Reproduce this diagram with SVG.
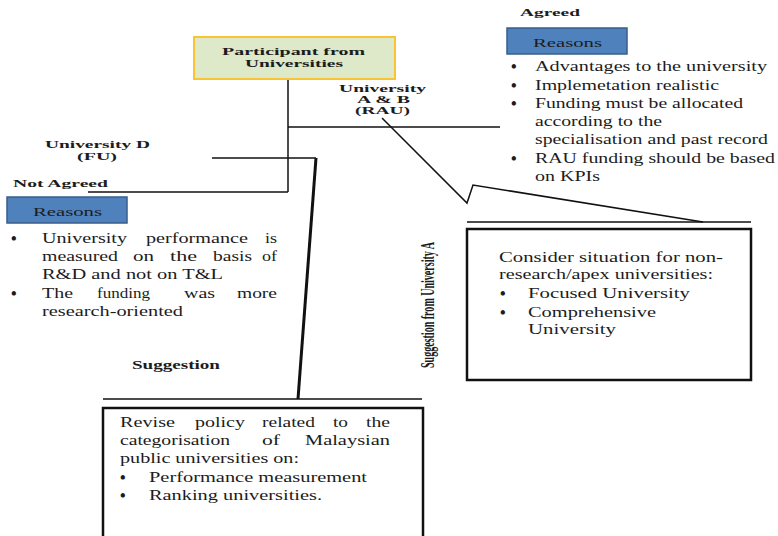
<svg xmlns="http://www.w3.org/2000/svg" width="778" height="536" viewBox="0 0 778 536">
<style>
  text { font-family: 'Liberation Serif', 'Times New Roman', 'DejaVu Serif', serif; fill: #1c1c1c; }
  .b { font-weight: bold; font-size: 11px; }
  .b12 { font-weight: bold; font-size: 12px; }
  .b10 { font-weight: bold; font-size: 10px; }
  .side { font-weight: bold; font-size: 18px; }
  .t { font-size: 15px; }
  .r { font-size: 13px; }
  .bul { font-size: 16px; font-weight: bold; }
  .line { stroke: #111; fill: none; stroke-width: 1.5; }
  .thick { stroke: #111; fill: none; stroke-width: 3; }
  .box { fill: #fff; stroke: #111; stroke-width: 2.5; }
  .reason { fill: #4f81bd; stroke: #385d8a; stroke-width: 1.5; }
</style>
<rect width="778" height="536" fill="#fff"/>

<g id="connectors">
  <line class="line" x1="288" y1="79" x2="288" y2="192"/>
  <line class="line" x1="88" y1="192" x2="288" y2="192"/>
  <line class="line" x1="288" y1="127" x2="500" y2="127"/>
  <polyline class="line" points="212,158 316,158"/>
  <line class="thick" x1="316" y1="158" x2="298" y2="399"/>
  <line class="line" stroke-width="2" x1="103" y1="399" x2="422" y2="399"/>
  <polyline class="line" stroke-width="2" points="382,118 467,203 473,185 703,222"/>
  <line class="line" stroke-width="2" x1="467" y1="222" x2="751" y2="222"/>
</g>

<g id="participant">
  <rect x="194" y="37" width="201" height="42" fill="#dde9c8" stroke="#f8c434" stroke-width="2"/>
  <text class="b" x="222" y="55" textLength="143" lengthAdjust="spacingAndGlyphs">Participant from</text>
  <text class="b" x="245" y="67" textLength="98" lengthAdjust="spacingAndGlyphs">Universities</text>
</g>

<g id="rau-label">
  <text class="b10" x="339" y="92" textLength="87" lengthAdjust="spacingAndGlyphs">University</text>
  <text class="b10" x="357" y="103" textLength="53" lengthAdjust="spacingAndGlyphs">A &amp; B</text>
  <text class="b10" x="355" y="114" textLength="55" lengthAdjust="spacingAndGlyphs">(RAU)</text>
</g>

<g id="agreed">
  <text class="b" x="520" y="16" textLength="60" lengthAdjust="spacingAndGlyphs">Agreed</text>
  <rect class="reason" x="507" y="28" width="120" height="26"/>
  <text class="r" x="533" y="47" textLength="69" lengthAdjust="spacingAndGlyphs">Reasons</text>
  <text class="bul" x="511" y="72">•</text>
  <text class="t" x="535" y="71" textLength="232" lengthAdjust="spacingAndGlyphs">Advantages to the university</text>
  <text class="bul" x="511" y="91">•</text>
  <text class="t" x="535" y="90" textLength="184" lengthAdjust="spacingAndGlyphs">Implemetation realistic</text>
  <text class="bul" x="511" y="109">•</text>
  <text class="t" x="535" y="108" textLength="208" lengthAdjust="spacingAndGlyphs">Funding must be allocated</text>
  <text class="t" x="535" y="126" textLength="127" lengthAdjust="spacingAndGlyphs">according to the</text>
  <text class="t" x="535" y="144" textLength="233" lengthAdjust="spacingAndGlyphs">specialisation and past record</text>
  <text class="bul" x="511" y="164">•</text>
  <text class="t" x="535" y="163" textLength="240" lengthAdjust="spacingAndGlyphs">RAU funding should be based</text>
  <text class="t" x="535" y="181" textLength="65" lengthAdjust="spacingAndGlyphs">on KPIs</text>
</g>

<g id="fu-label">
  <text class="b10" x="45" y="148" textLength="105" lengthAdjust="spacingAndGlyphs">University D</text>
  <text class="b10" x="77" y="160" textLength="40" lengthAdjust="spacingAndGlyphs">(FU)</text>
</g>

<g id="not-agreed">
  <text class="b" x="13" y="187" textLength="95" lengthAdjust="spacingAndGlyphs">Not Agreed</text>
  <rect class="reason" x="7" y="197" width="120" height="26"/>
  <text class="r" x="33" y="216" textLength="69" lengthAdjust="spacingAndGlyphs">Reasons</text>
  <text class="bul" x="11" y="244">•</text>
  <text class="t" x="42" y="243" textLength="85" lengthAdjust="spacingAndGlyphs">University</text>
  <text class="t" x="146" y="243" textLength="102" lengthAdjust="spacingAndGlyphs">performance</text>
  <text class="t" x="265" y="243" textLength="12" lengthAdjust="spacingAndGlyphs">is</text>
  <text class="t" x="42" y="261" textLength="76" lengthAdjust="spacingAndGlyphs">measured</text>
  <text class="t" x="133" y="261" textLength="21" lengthAdjust="spacingAndGlyphs">on</text>
  <text class="t" x="170" y="261" textLength="27" lengthAdjust="spacingAndGlyphs">the</text>
  <text class="t" x="213" y="261" textLength="39" lengthAdjust="spacingAndGlyphs">basis</text>
  <text class="t" x="262" y="261" textLength="15" lengthAdjust="spacingAndGlyphs">of</text>
  <text class="t" x="42" y="279" textLength="181" lengthAdjust="spacingAndGlyphs">R&amp;D and not on T&amp;L</text>
  <text class="bul" x="11" y="299">•</text>
  <text class="t" x="42" y="298" textLength="31" lengthAdjust="spacingAndGlyphs">The</text>
  <text class="t" x="97" y="298" textLength="53" lengthAdjust="spacingAndGlyphs">funding</text>
  <text class="t" x="184" y="298" textLength="31" lengthAdjust="spacingAndGlyphs">was</text>
  <text class="t" x="237" y="298" textLength="40" lengthAdjust="spacingAndGlyphs">more</text>
  <text class="t" x="42" y="316" textLength="141" lengthAdjust="spacingAndGlyphs">research-oriented</text>
</g>

<g id="suggestion">
  <text class="b12" x="132" y="369" textLength="88" lengthAdjust="spacingAndGlyphs">Suggestion</text>
  <rect class="box" x="103" y="408" width="320" height="140"/>
  <text class="t" x="120" y="427" textLength="55" lengthAdjust="spacingAndGlyphs">Revise</text>
  <text class="t" x="195" y="427" textLength="50" lengthAdjust="spacingAndGlyphs">policy</text>
  <text class="t" x="262" y="427" textLength="53" lengthAdjust="spacingAndGlyphs">related</text>
  <text class="t" x="333" y="427" textLength="15" lengthAdjust="spacingAndGlyphs">to</text>
  <text class="t" x="366" y="427" textLength="24" lengthAdjust="spacingAndGlyphs">the</text>
  <text class="t" x="120" y="445" textLength="110" lengthAdjust="spacingAndGlyphs">categorisation</text>
  <text class="t" x="262" y="445" textLength="18" lengthAdjust="spacingAndGlyphs">of</text>
  <text class="t" x="305" y="445" textLength="85" lengthAdjust="spacingAndGlyphs">Malaysian</text>
  <text class="t" x="120" y="463" textLength="179" lengthAdjust="spacingAndGlyphs">public universities on:</text>
  <text class="bul" x="120" y="483">•</text>
  <text class="t" x="149" y="482" textLength="218" lengthAdjust="spacingAndGlyphs">Performance measurement</text>
  <text class="bul" x="120" y="501">•</text>
  <text class="t" x="149" y="500" textLength="173" lengthAdjust="spacingAndGlyphs">Ranking universities.</text>
</g>

<g id="suggestion-a">
  <text class="side" transform="translate(434,368) rotate(-90)" x="0" y="0" textLength="126" lengthAdjust="spacingAndGlyphs">Suggestion from University A</text>
  <rect class="box" x="467" y="229" width="284" height="151"/>
  <text class="t" x="499" y="262" textLength="224" lengthAdjust="spacingAndGlyphs">Consider situation for non-</text>
  <text class="t" x="499" y="279" textLength="214" lengthAdjust="spacingAndGlyphs">research/apex universities:</text>
  <text class="bul" x="500" y="299">•</text>
  <text class="t" x="528" y="298" textLength="162" lengthAdjust="spacingAndGlyphs">Focused University</text>
  <text class="bul" x="500" y="318">•</text>
  <text class="t" x="528" y="317" textLength="128" lengthAdjust="spacingAndGlyphs">Comprehensive</text>
  <text class="t" x="528" y="334" textLength="88" lengthAdjust="spacingAndGlyphs">University</text>
</g>
</svg>
